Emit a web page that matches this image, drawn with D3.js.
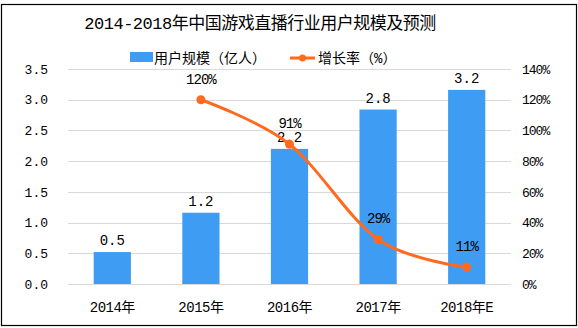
<!DOCTYPE html>
<html><head><meta charset="utf-8">
<script src="https://cdn.jsdelivr.net/npm/d3@7"></script>
<style>body{margin:0;background:#fff}svg{display:block}</style>
</head><body>
<svg id="c" width="578" height="328"></svg>
<script>
const categories = ["2014年","2015年","2016年","2017年","2018年E"];
const users = [0.52, 1.16, 2.2, 2.84, 3.16];
const userLabels = ["0.5","1.2","2.2","2.8","3.2"];
const growth = [null, 120, 91, 29, 11];
const leftTicks = [0,0.5,1,1.5,2,2.5,3,3.5];
const rightTicks = [0,20,40,60,80,100,120,140];
const title = "2014-2018年中国游戏直播行业用户规模及预测";
const legendNames = ["用户规模（亿人）","增长率（%）"];

const FONT = "'Liberation Mono','Noto Sans CJK SC',monospace";
const BLUE = "#3E9DF2", ORANGE = "#FF6A1E";
const svg = d3.select("#c");
svg.append("rect").attr("x",1.5).attr("y",4.5).attr("width",575).attr("height",321)
  .attr("fill","#fff").attr("stroke","#000").attr("stroke-width",1.2);

const x = d3.scaleBand().domain(categories).range([68,511]).padding(0);
const yL = d3.scaleLinear().domain([0,3.5]).range([284,69]);
const yR = d3.scaleLinear().domain([0,140]).range([284,69]);

// gridlines
svg.append("g").selectAll("line").data(leftTicks).join("line")
  .attr("x1",68).attr("x2",511).attr("y1",d=>Math.round(yL(d))+0.5).attr("y2",d=>Math.round(yL(d))+0.5)
  .attr("stroke","#d9d9d9").attr("stroke-width",1);

// left axis
const gl = svg.append("g").attr("transform","translate(58,0)")
  .call(d3.axisLeft(yL).tickValues(leftTicks).tickFormat(d3.format(".1f")).tickSize(0).tickPadding(0));
gl.select(".domain").remove();
gl.selectAll("text").attr("font-family",FONT).attr("font-size",13).attr("fill","#000").attr("x",-10);

// right axis
const gr = svg.append("g").attr("transform","translate(520,0)")
  .call(d3.axisRight(yR).tickValues(rightTicks).tickFormat(d=>d+"%").tickSize(0).tickPadding(0));
gr.select(".domain").remove();
gr.selectAll("text").attr("font-family",FONT).attr("font-size",13).attr("fill","#000").attr("x",2).attr("letter-spacing",-1);

// x axis
const gx = svg.append("g").attr("transform","translate(0,284)")
  .call(d3.axisBottom(x).tickSize(0).tickPadding(0));
gx.select(".domain").remove();
gx.selectAll("text").attr("font-family",FONT).attr("font-size",14).attr("fill","#000").attr("dy",0).attr("y",28).attr("letter-spacing",-0.5);

// bars
const bw = x.bandwidth()*0.42;
svg.append("g").selectAll("rect").data(users).join("rect")
  .attr("x",(d,i)=>x(categories[i])+x.bandwidth()/2-bw/2)
  .attr("width",bw)
  .attr("y",d=>yL(d)).attr("height",d=>yL(0)-yL(d)).attr("fill",BLUE);
svg.append("g").selectAll("text").data(users).join("text")
  .attr("x",(d,i)=>x(categories[i])+x.bandwidth()/2)
  .attr("y",d=>yL(d)-7).attr("text-anchor","middle")
  .attr("font-family",FONT).attr("font-size",14).attr("fill","#000")
  .text((d,i)=>userLabels[i]);

// line
const pts = growth.map((g,i)=>g==null?null:[x(categories[i])+x.bandwidth()/2, yR(g)]).filter(p=>p);
svg.append("path").attr("d",d3.line().curve(d3.curveCatmullRom.alpha(0))(pts))
  .attr("fill","none").attr("stroke",ORANGE).attr("stroke-width",3);
svg.append("g").selectAll("circle").data(pts).join("circle")
  .attr("cx",d=>d[0]).attr("cy",d=>d[1]).attr("r",4.5).attr("fill",ORANGE);
const gv = growth.map((g,i)=>({g,i})).filter(d=>d.g!=null);
svg.append("g").selectAll("text").data(gv).join("text")
  .attr("x",d=>x(categories[d.i])+x.bandwidth()/2)
  .attr("y",d=>yR(d.g)-16).attr("text-anchor","middle")
  .attr("font-family",FONT).attr("font-size",14).attr("fill","#000").attr("letter-spacing",-1)
  .text(d=>d.g+"%");

// title
svg.append("text").attr("x",260).attr("y",29).attr("text-anchor","middle")
  .attr("font-family",FONT).attr("font-size",17).attr("fill","#000").attr("letter-spacing",-0.5).text(title);

// legend
svg.append("rect").attr("x",130).attr("y",52).attr("width",23).attr("height",10).attr("fill",BLUE);
svg.append("text").attr("x",154).attr("y",63).attr("font-family",FONT).attr("font-size",14).attr("fill","#000").text(legendNames[0]);
svg.append("line").attr("x1",290).attr("x2",315).attr("y1",58).attr("y2",58).attr("stroke",ORANGE).attr("stroke-width",3);
svg.append("circle").attr("cx",302.5).attr("cy",58).attr("r",3.5).attr("fill",ORANGE);
svg.append("text").attr("x",318).attr("y",63).attr("font-family",FONT).attr("font-size",14).attr("fill","#000").text(legendNames[1]);
</script>
</body></html>
